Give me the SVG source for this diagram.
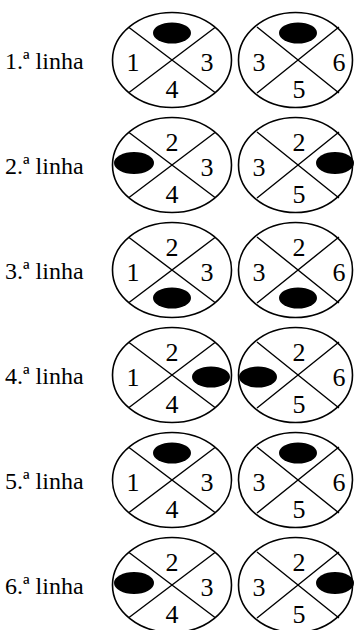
<svg xmlns="http://www.w3.org/2000/svg" width="357" height="630" viewBox="0 0 357 630">
<style>
.o{fill:#fff;stroke:#000;stroke-width:1.6}
.x{stroke:#000;stroke-width:1.4;fill:none}
.b{fill:#000}
</style>
<rect width="357" height="630" fill="#fff"/>
<defs>
<g id="L"><ellipse class="o" cx="0" cy="0" rx="59.5" ry="47.5"/><path class="x" d="M-43,-32.5L43,32.5M43,-32.5L-43,32.5"/></g>
<g id="R"><ellipse class="o" cx="-2.5" cy="0" rx="57" ry="47.5"/><path class="x" d="M-41,33L41,-33M-41,-33L41,33"/></g>
</defs>
<g id="connectors"></g>

<g id="row1" transform="translate(0,60)">
<text x="5" y="9" font-family="Liberation Serif, serif" font-size="24">1.ª linha</text>
<g id="r1a" transform="translate(172,0)"><use href="#L"/><ellipse class="b" cx="0" cy="-27" rx="19" ry="10.5"/>
<text x="-39" y="11" font-family="Liberation Serif, serif" font-size="26" text-anchor="middle">1</text>
<text x="35" y="11" font-family="Liberation Serif, serif" font-size="26" text-anchor="middle">3</text>
<text x="0" y="38" font-family="Liberation Serif, serif" font-size="26" text-anchor="middle">4</text></g>
<g id="r1b" transform="translate(298,0)"><use href="#R"/><ellipse class="b" cx="0" cy="-27" rx="19" ry="10.5"/>
<text x="-39" y="11" font-family="Liberation Serif, serif" font-size="26" text-anchor="middle">3</text>
<text x="41" y="11" font-family="Liberation Serif, serif" font-size="26" text-anchor="middle">6</text>
<text x="1" y="38" font-family="Liberation Serif, serif" font-size="26" text-anchor="middle">5</text></g>
</g>

<g id="row2" transform="translate(0,165)">
<text x="5" y="9" font-family="Liberation Serif, serif" font-size="24">2.ª linha</text>
<g id="r2a" transform="translate(172,0)"><use href="#L"/><ellipse class="b" cx="-38" cy="-2" rx="20" ry="11"/>
<text x="0" y="-14" font-family="Liberation Serif, serif" font-size="26" text-anchor="middle">2</text>
<text x="35" y="11" font-family="Liberation Serif, serif" font-size="26" text-anchor="middle">3</text>
<text x="0" y="38" font-family="Liberation Serif, serif" font-size="26" text-anchor="middle">4</text></g>
<g id="r2b" transform="translate(298,0)"><use href="#R"/><ellipse class="b" cx="37" cy="-2" rx="19" ry="11"/>
<text x="1" y="-14" font-family="Liberation Serif, serif" font-size="26" text-anchor="middle">2</text>
<text x="-39" y="11" font-family="Liberation Serif, serif" font-size="26" text-anchor="middle">3</text>
<text x="1" y="38" font-family="Liberation Serif, serif" font-size="26" text-anchor="middle">5</text></g>
</g>

<g id="row3" transform="translate(0,270)">
<text x="5" y="9" font-family="Liberation Serif, serif" font-size="24">3.ª linha</text>
<g id="r3a" transform="translate(172,0)"><use href="#L"/><ellipse class="b" cx="0" cy="28" rx="19" ry="10.5"/>
<text x="0" y="-14" font-family="Liberation Serif, serif" font-size="26" text-anchor="middle">2</text>
<text x="-39" y="11" font-family="Liberation Serif, serif" font-size="26" text-anchor="middle">1</text>
<text x="35" y="11" font-family="Liberation Serif, serif" font-size="26" text-anchor="middle">3</text></g>
<g id="r3b" transform="translate(298,0)"><use href="#R"/><ellipse class="b" cx="0" cy="28" rx="19" ry="10.5"/>
<text x="1" y="-14" font-family="Liberation Serif, serif" font-size="26" text-anchor="middle">2</text>
<text x="-39" y="11" font-family="Liberation Serif, serif" font-size="26" text-anchor="middle">3</text>
<text x="41" y="11" font-family="Liberation Serif, serif" font-size="26" text-anchor="middle">6</text></g>
</g>

<g id="row4" transform="translate(0,375)">
<text x="5" y="9" font-family="Liberation Serif, serif" font-size="24">4.ª linha</text>
<g id="r4a" transform="translate(172,0)"><use href="#L"/><ellipse class="b" cx="39" cy="2" rx="19" ry="10.5"/>
<text x="0" y="-14" font-family="Liberation Serif, serif" font-size="26" text-anchor="middle">2</text>
<text x="-39" y="11" font-family="Liberation Serif, serif" font-size="26" text-anchor="middle">1</text>
<text x="0" y="38" font-family="Liberation Serif, serif" font-size="26" text-anchor="middle">4</text></g>
<g id="r4b" transform="translate(298,0)"><use href="#R"/><ellipse class="b" cx="-40" cy="2" rx="19" ry="10.5"/>
<text x="1" y="-14" font-family="Liberation Serif, serif" font-size="26" text-anchor="middle">2</text>
<text x="41" y="11" font-family="Liberation Serif, serif" font-size="26" text-anchor="middle">6</text>
<text x="1" y="38" font-family="Liberation Serif, serif" font-size="26" text-anchor="middle">5</text></g>
</g>

<g id="row5" transform="translate(0,480)">
<text x="5" y="9" font-family="Liberation Serif, serif" font-size="24">5.ª linha</text>
<g id="r5a" transform="translate(172,0)"><use href="#L"/><ellipse class="b" cx="0" cy="-27" rx="19" ry="10.5"/>
<text x="-39" y="11" font-family="Liberation Serif, serif" font-size="26" text-anchor="middle">1</text>
<text x="35" y="11" font-family="Liberation Serif, serif" font-size="26" text-anchor="middle">3</text>
<text x="0" y="38" font-family="Liberation Serif, serif" font-size="26" text-anchor="middle">4</text></g>
<g id="r5b" transform="translate(298,0)"><use href="#R"/><ellipse class="b" cx="0" cy="-27" rx="19" ry="10.5"/>
<text x="-39" y="11" font-family="Liberation Serif, serif" font-size="26" text-anchor="middle">3</text>
<text x="41" y="11" font-family="Liberation Serif, serif" font-size="26" text-anchor="middle">6</text>
<text x="1" y="38" font-family="Liberation Serif, serif" font-size="26" text-anchor="middle">5</text></g>
</g>

<g id="row6" transform="translate(0,585)">
<text x="5" y="9" font-family="Liberation Serif, serif" font-size="24">6.ª linha</text>
<g id="r6a" transform="translate(172,0)"><use href="#L"/><ellipse class="b" cx="-38" cy="-2" rx="20" ry="11"/>
<text x="0" y="-14" font-family="Liberation Serif, serif" font-size="26" text-anchor="middle">2</text>
<text x="35" y="11" font-family="Liberation Serif, serif" font-size="26" text-anchor="middle">3</text>
<text x="0" y="38" font-family="Liberation Serif, serif" font-size="26" text-anchor="middle">4</text></g>
<g id="r6b" transform="translate(298,0)"><use href="#R"/><ellipse class="b" cx="37" cy="-2" rx="19" ry="11"/>
<text x="1" y="-14" font-family="Liberation Serif, serif" font-size="26" text-anchor="middle">2</text>
<text x="-39" y="11" font-family="Liberation Serif, serif" font-size="26" text-anchor="middle">3</text>
<text x="1" y="38" font-family="Liberation Serif, serif" font-size="26" text-anchor="middle">5</text></g>
</g>
</svg>
